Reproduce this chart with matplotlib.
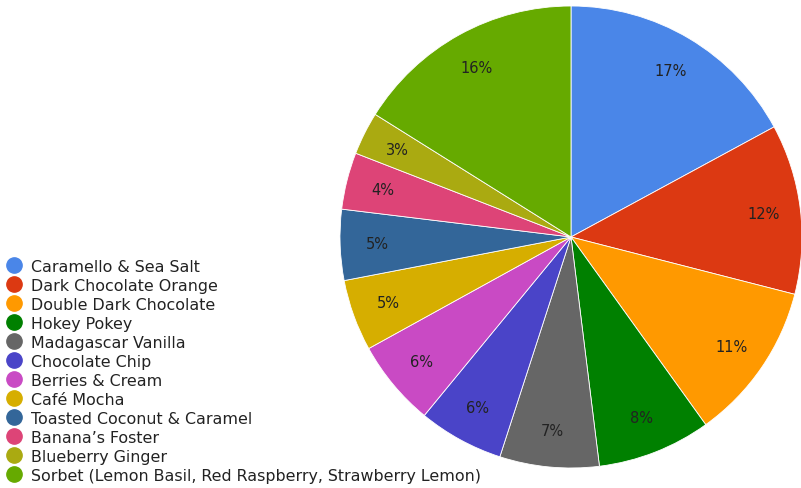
import matplotlib
matplotlib.use('Agg')
import matplotlib.pyplot as plt
from matplotlib.lines import Line2D

flavours = ['Caramello & Sea Salt', 'Dark Chocolate Orange', 'Double Dark Chocolate',
            'Hokey Pokey', 'Madagascar Vanilla', 'Chocolate Chip', 'Berries & Cream',
            'Café Mocha', 'Toasted Coconut & Caramel', 'Banana\u2019s Foster',
            'Blueberry Ginger', 'Sorbet (Lemon Basil, Red Raspberry, Strawberry Lemon)']
shares = [17.1, 11.9, 11.1, 7.95, 6.95, 5.97, 6.03, 5.0, 4.95, 3.98, 3.0, 16.1]
colours = ['#4a86e8', '#dc3912', '#ff9900', '#008000', '#666666', '#4a44c8',
           '#c94ac4', '#d6ae00', '#336699', '#dd4477', '#aaaa11', '#66aa00']

plt.rcParams['font.family'] = ['DejaVu Sans']

fig = plt.figure(figsize=(8.01, 4.89), dpi=100)
ax = fig.add_axes([340/801, 20/489, 462/801, 462/489])

wedges, texts, autotexts = ax.pie(shares, colors=colours, startangle=90, counterclock=False,
                                  autopct='%.0f%%', pctdistance=0.84, radius=1,
                                  wedgeprops=dict(linewidth=0.6, edgecolor='white'),
                                  textprops=dict(fontsize=10.5, color='#222222'))
ax.set_xlim(-1, 1)
ax.set_ylim(-1, 1)
ax.set_aspect('equal')
ax.axis('off')

handles = [Line2D([], [], marker='o', linestyle='none', markersize=11,
                  markerfacecolor=c, markeredgecolor=c) for c in colours]
fig.legend(handles, flavours, loc='upper left', bbox_to_anchor=(6/801, 1 - 260/489),
           frameon=False, fontsize=11.4, labelspacing=0.25, handlelength=1.0,
           handletextpad=0.55, borderpad=0, borderaxespad=0, labelcolor='#222222')

fig.savefig('out.png', dpi=100)
